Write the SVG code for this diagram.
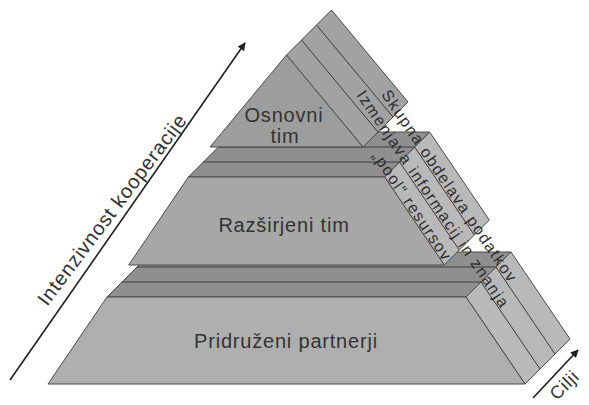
<svg xmlns="http://www.w3.org/2000/svg" width="589" height="405" viewBox="0 0 589 405">
  <style>
    .front1 { fill: #9d9d9d; stroke: #4a4a4a; stroke-width: 1; }
    .front2 { fill: #a7a7a7; stroke: #4a4a4a; stroke-width: 1; }
    .front3 { fill: #afafaf; stroke: #4a4a4a; stroke-width: 1; }
    .side1 { fill: #a2a2a2; stroke: #4a4a4a; stroke-width: 1; }
    .side { fill: #b9b9b9; stroke: #4a4a4a; stroke-width: 1; }
    .top { fill: #8f8f8f; stroke: #4a4a4a; stroke-width: 1; }
    .ln { stroke: #3c3c3c; stroke-width: 1; fill: none; }
    .lbl { font-family: "Liberation Sans", Arial, sans-serif; font-size: 20px; letter-spacing: 0.8px; fill: #333333; text-anchor: middle; }
    .band { font-family: "Liberation Sans", Arial, sans-serif; font-size: 16px; letter-spacing: 1.5px; fill: #2e2e2e; text-anchor: middle; }
    .axis { stroke: #1e1e1e; stroke-width: 1.6; fill: none; }
  </style>
  <defs>
    <marker id="ah" viewBox="0 0 10 10" refX="9" refY="5" markerWidth="8" markerHeight="8" markerUnits="userSpaceOnUse" orient="auto">
      <path d="M0,0 L10,5 L0,10 z" fill="#1e1e1e"/>
    </marker>
  </defs>
  <rect width="589" height="405" fill="#ffffff"/>

  <g id="tier-pridruzeni">
    <polygon class="side" points="466,297 525,384 570,339 511,252"/>
    <line class="ln" x1="481" y1="282" x2="540" y2="369"/>
    <line class="ln" x1="496" y1="267" x2="555" y2="354"/>
    <polygon class="top" points="107,297 466,297 511,252 152,252"/>
    <line class="ln" x1="122" y1="282" x2="481" y2="282"/>
    <line class="ln" x1="137" y1="267" x2="496" y2="267"/>
    <polygon class="front3" points="107,297 466,297 525,384 48,384"/>
    <text class="lbl" x="286" y="348">Pridruženi partnerji</text>
  </g>

  <g id="tier-razsirjeni">
    <polygon class="side" points="384.6,177 444.3,265 489.3,220 429.6,132"/>
    <line class="ln" x1="399.6" y1="162" x2="459.3" y2="250"/>
    <line class="ln" x1="414.6" y1="147" x2="474.3" y2="235"/>
    <polygon class="top" points="188.4,177 384.6,177 429.6,132 233.4,132"/>
    <line class="ln" x1="203.4" y1="162" x2="399.6" y2="162"/>
    <line class="ln" x1="218.4" y1="147" x2="414.6" y2="147"/>
    <polygon class="front2" points="188.4,177 384.6,177 444.3,265 128.7,265"/>
    <text class="lbl" x="284" y="232">Razširjeni tim</text>
  </g>

  <g id="tier-osnovni">
    <polygon class="side1" points="286.5,55 363,147 408,102 331.5,10"/>
    <line class="ln" x1="301.5" y1="40" x2="378" y2="132"/>
    <line class="ln" x1="316.5" y1="25" x2="393" y2="117"/>
    <polygon class="front1" points="286.5,55 210,147 363,147"/>
    <text class="lbl" x="284" y="122">Osnovni</text>
    <text class="lbl" x="285" y="143">tim</text>
  </g>

  <g id="band-labels">
    <text class="band" transform="translate(445,189.3) rotate(55.9)">Skupna obdelava podatkov</text>
    <text class="band" transform="translate(428.6,202.4) rotate(55.9)">Izmenjava informacij in znanja</text>
    <text class="band" transform="translate(407.7,209) rotate(55.9)">„pool“ resursov</text>
  </g>

  <g id="connectors">
    <line class="axis" x1="10" y1="380" x2="245" y2="43" marker-end="url(#ah)"/>
    <line class="axis" x1="533" y1="398" x2="578" y2="350" marker-end="url(#ah)"/>
  </g>

  <g id="axis-labels">
    <text class="lbl" transform="translate(117.6,213.6) rotate(-53)">Intenzivnost kooperacije</text>
    <text class="lbl" style="text-anchor: start; font-size: 18px;" transform="translate(557,401) rotate(-45)">Cilji</text>
  </g>
</svg>
